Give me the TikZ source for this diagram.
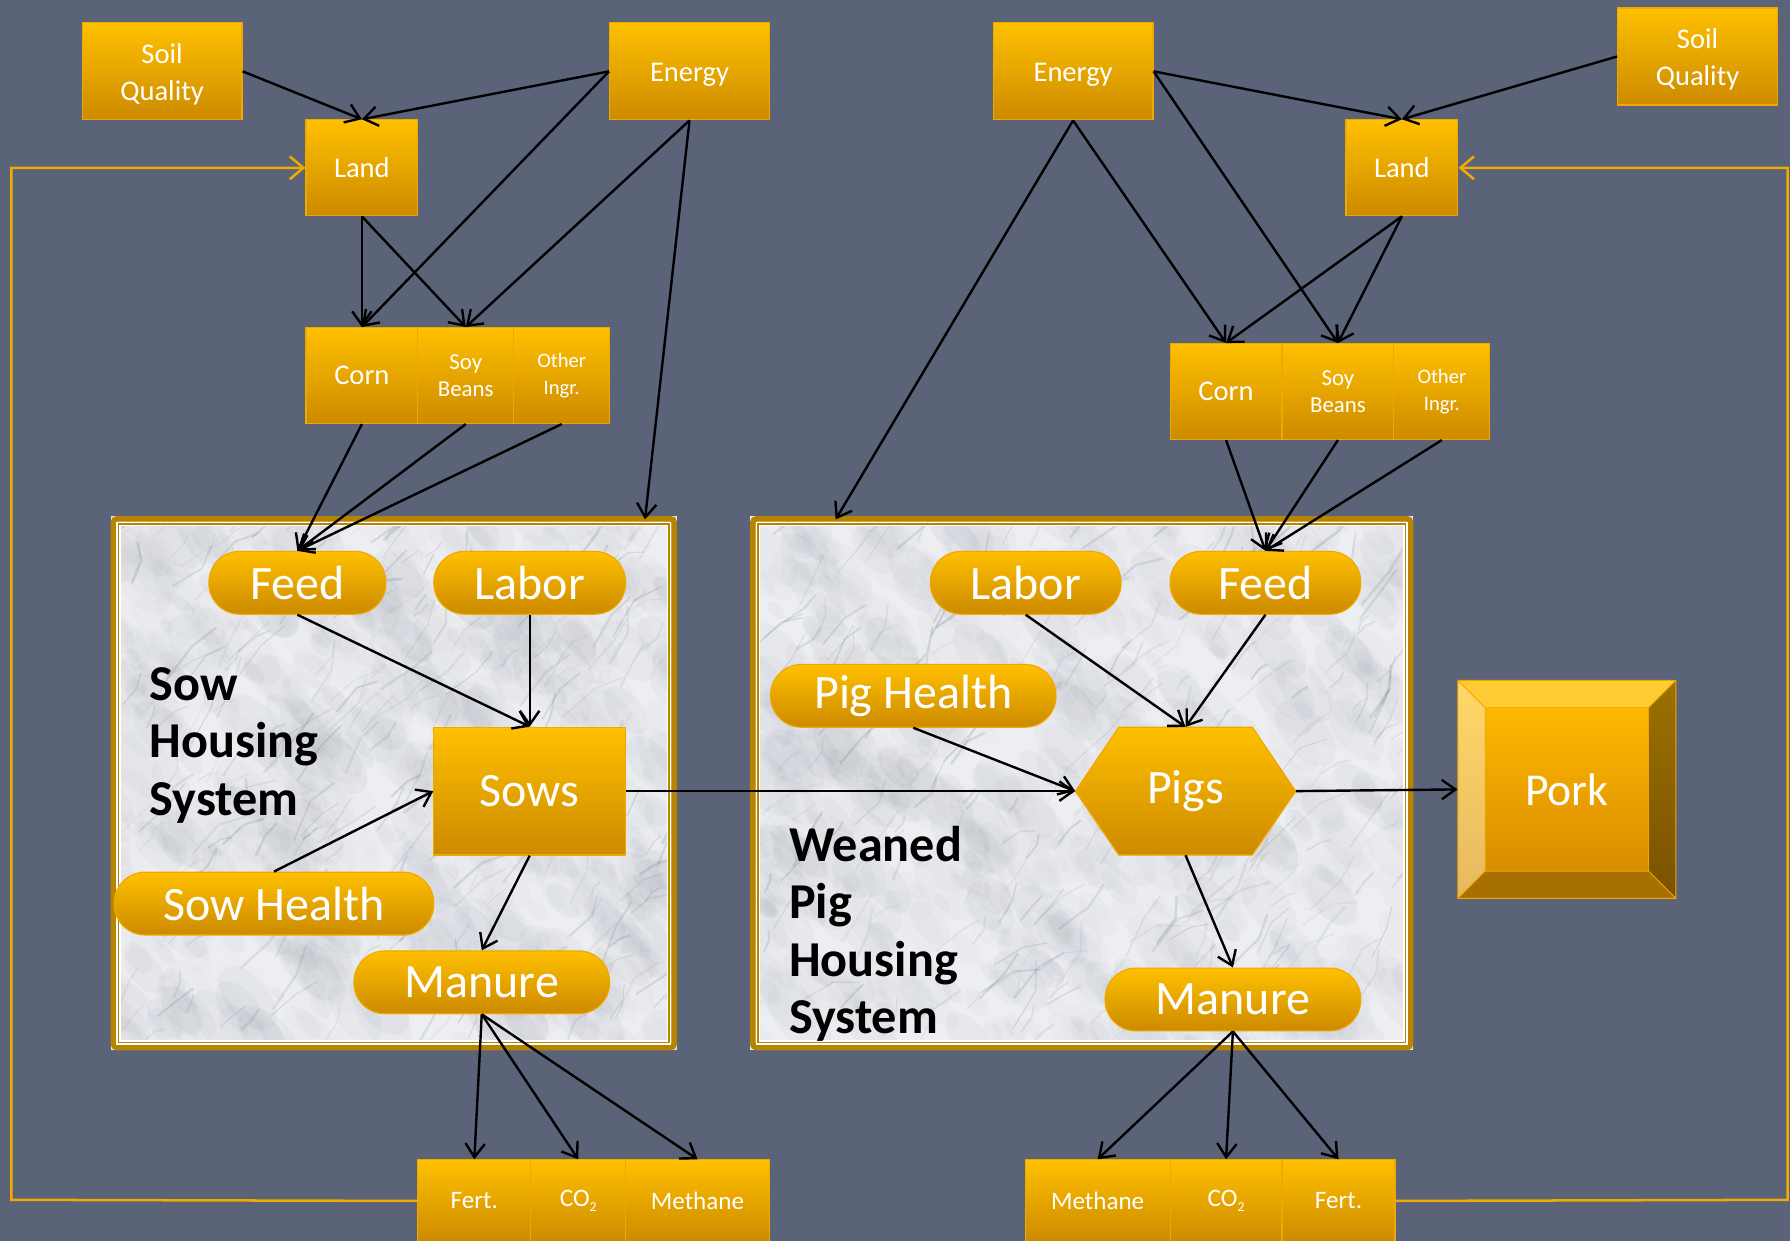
\documentclass[tikz,border=0pt]{standalone}
\usepackage{fontspec}
\setmainfont{Carlito}
\usetikzlibrary{arrows.meta}
\definecolor{bg}{RGB}{91,99,121}
\definecolor{otop}{RGB}{255,192,0}
\definecolor{obot}{RGB}{204,138,0}
\definecolor{oedge}{RGB}{240,168,0}
\definecolor{fbline}{RGB}{240,170,0}
\definecolor{gold}{RGB}{183,132,0}
\definecolor{marble}{RGB}{236,238,242}
\definecolor{vein}{RGB}{110,116,128}
\definecolor{pktop}{RGB}{255,204,51}
\definecolor{pkleftt}{RGB}{255,216,106}
\definecolor{pkleftb}{RGB}{230,185,95}
\definecolor{pkrightt}{RGB}{155,112,0}
\definecolor{pkrightb}{RGB}{122,82,0}
\definecolor{pkbot}{RGB}{168,112,0}
\definecolor{pkint}{RGB}{255,184,0}
\definecolor{pkinb}{RGB}{217,140,0}
\newcommand\dropby[1]{\vphantom{Qy}\smash{\raisebox{-3pt}{#1}}}
\newcommand\marblefill[4]{%
  \begin{scope}
    \clip (#1,#2) rectangle (#3,#4);
    \fill[marble] (#1,#2) rectangle (#3,#4);
    \foreach \k in {1,...,700}{%
      \pgfmathsetmacro\sx{#1+rnd*(#3-#1)}%
      \pgfmathsetmacro\sy{#2+rnd*(#4-#2)}%
      \pgfmathsetmacro\sr{4+rnd*16}%
      \pgfmathsetmacro\so{0.015+rnd*0.035}%
      \fill[vein,opacity=\so] (\sx,\sy) circle[x radius=\sr*1.8,y radius=\sr,rotate=-50];
    }
    \foreach \k in {1,...,260}{%
      \pgfmathsetmacro\sx{#1+rnd*(#3-#1)}%
      \pgfmathsetmacro\sy{#2+rnd*(#4-#2)}%
      \pgfmathsetmacro\sl{8+rnd*30}%
      \pgfmathsetmacro\sa{-30-rnd*40}%
      \pgfmathsetmacro\sb{\sa+rand*35}%
      \pgfmathsetmacro\sw{0.5+rnd*1.8}%
      \pgfmathsetmacro\so{0.06+rnd*0.16}%
      \draw[vein,line width=\sw pt,opacity=\so,line cap=round,line join=round]
        (\sx,\sy) -- ++({\sa}:\sl) -- ++({\sb}:{\sl*0.7});
    }
  \end{scope}}
\begin{document}
\begin{tikzpicture}[x=1pt,y=-1pt,
  box/.style={rectangle,top color=otop,bottom color=obot,draw=oedge,line width=1pt,
    text=white,align=center,inner sep=0pt},
  topbox/.style={box,minimum height=85pt,font=\fontsize{25}{32}\selectfont},
  smallbox/.style={box,minimum height=84pt},
  botbox/.style={box,minimum height=72pt,font=\fontsize{22}{26}\selectfont},
  pill/.style={box,rounded corners=27pt,minimum height=55pt,font=\fontsize{42}{50}\selectfont},
  arr/.style={draw=black,line width=2.1pt,-{Straight Barb[length=12pt,width=17pt]}},
  fb/.style={draw=fbline,line width=2.2pt,-{Straight Barb[length=12pt,width=20pt]}},
  framelbl/.style={anchor=west,align=left,inner sep=0pt,text=black,
    font=\bfseries\fontsize{44}{50}\selectfont}
]
\useasboundingbox (0,0) rectangle (1568,1087);
\fill[bg] (0,0) rectangle (1568,1087);

% ---------- frames ----------
\pgfmathsetseed{11}
\marblefill{97}{452}{593}{920}
\marblefill{657}{452}{1238}{920}
\foreach \xa/\xb in {97/593,657/1238}{
  \draw[gold,line width=5pt,rounded corners=3pt] (\xa+2.5,454.5) rectangle (\xb-2.5,917.5);
  \draw[white,line width=4pt] (\xa+7,459) rectangle (\xb-7,913);
  \draw[gold,line width=1.3pt] (\xa+7,459) rectangle (\xb-7,913);
}
\coordinate (sowtop) at (565,455);
\coordinate (pigtop) at (732,455);

% ---------- top left ----------
\node[topbox,minimum width=140pt] (SQ1) at (142,62.5) {\dropby{Soil}\\\dropby{Quality}};
\node[topbox,minimum width=140pt] (E1) at (604,62.5) {\dropby{Energy}};
\node[smallbox,minimum width=98pt,font=\fontsize{25}{31}\selectfont] (L1) at (317,147) {Land};
\node[smallbox,minimum width=98pt,font=\fontsize{25}{31}\selectfont] (C1) at (317,329) {Corn};
\node[smallbox,minimum width=84pt,font=\fontsize{20}{24}\selectfont] (S1) at (408,329) {Soy\\Beans};
\node[smallbox,minimum width=84pt,font=\fontsize{18}{23}\selectfont] (O1) at (492,329) {Other\\Ingr.};

% ---------- top right ----------
\node[topbox,minimum width=140pt] (E2) at (940,62.5) {\dropby{Energy}};
\node[topbox,minimum width=140pt] (SQ2) at (1487,49.5) {\dropby{Soil}\\\dropby{Quality}};
\node[smallbox,minimum width=98pt,font=\fontsize{25}{31}\selectfont] (L2) at (1228,147) {Land};
\node[smallbox,minimum width=98pt,font=\fontsize{25}{31}\selectfont] (C2) at (1074,343) {Corn};
\node[smallbox,minimum width=98pt,font=\fontsize{20}{24}\selectfont] (S2) at (1172,343) {Soy\\Beans};
\node[smallbox,minimum width=84pt,font=\fontsize{18}{23}\selectfont] (O2) at (1263,343) {Other\\Ingr.};

% ---------- sow housing ----------
\node[pill,minimum width=155pt] (Feed1) at (260.5,510.5) {Feed};
\node[pill,minimum width=168pt] (Labor1) at (464,510.5) {Labor};
\node[box,minimum width=168pt,minimum height=112pt,font=\fontsize{42}{50}\selectfont] (Sows) at (464,693) {Sows};
\node[pill,minimum width=280pt] (SowH) at (240,791.5) {Sow Health};
\node[pill,minimum width=224pt] (Man1) at (422,860.5) {Manure};
\node[framelbl] (SowLbl) at (131,653) {Sow\\Housing\\System};

% ---------- weaned pig housing ----------
\node[pill,minimum width=167pt] (Labor2) at (898.5,510.5) {Labor};
\node[pill,minimum width=167pt] (Feed2) at (1108.5,510.5) {Feed};
\node[pill,minimum width=250pt] (PigH) at (800,609.5) {Pig Health};
\path[top color=otop,bottom color=obot,draw=oedge,line width=1pt]
  (942,693) -- (980,637) -- (1097,637) -- (1135,693) -- (1097,749) -- (980,749) -- cycle;
\node[rectangle,minimum width=193pt,minimum height=112pt,inner sep=0pt,text=white,
  font=\fontsize{42}{50}\selectfont] (Pigs) at (1038.5,693) {Pigs};
\node[pill,minimum width=224pt] (Man2) at (1080,875.5) {Manure};
\node[framelbl] (PigLbl) at (691,818) {Weaned\\Pig\\Housing\\System};

% ---------- pork ----------
\fill[pktop] (1277,596) -- (1468,596) -- (1444,620) -- (1301,620) -- cycle;
\shade[top color=pkleftt,bottom color=pkleftb]
  (1277,596) -- (1301,620) -- (1301,763) -- (1277,787) -- cycle;
\shade[top color=pkrightt,bottom color=pkrightb]
  (1468,596) -- (1444,620) -- (1444,763) -- (1468,787) -- cycle;
\fill[pkbot] (1277,787) -- (1301,763) -- (1444,763) -- (1468,787) -- cycle;
\shade[top color=pkint,bottom color=pkinb] (1301,620) rectangle (1444,763);
\draw[oedge,line width=0.8pt] (1277,596) rectangle (1468,787) (1301,620) rectangle (1444,763)
  (1277,596) -- (1301,620) (1468,596) -- (1444,620) (1277,787) -- (1301,763) (1468,787) -- (1444,763);
\node[rectangle,minimum width=191pt,minimum height=191pt,inner sep=0pt,text=white,
  font=\fontsize{40}{48}\selectfont] (Pork) at (1372.5,691.5) {Pork};

% ---------- bottom outputs ----------
\node[botbox,minimum width=99pt] (F1) at (415.5,1052) {Fert.};
\node[botbox,minimum width=83pt] (CO1) at (506.5,1052) {CO\raisebox{-5pt}{\fontsize{12}{12}\selectfont 2}};
\node[botbox,minimum width=126pt] (M1) at (611,1052) {Methane};
\node[botbox,minimum width=127pt] (M2) at (961.5,1052) {Methane};
\node[botbox,minimum width=98pt] (CO2) at (1074,1052) {CO\raisebox{-5pt}{\fontsize{12}{12}\selectfont 2}};
\node[botbox,minimum width=99pt] (F2) at (1172.5,1052) {Fert.};

% ---------- feedback lines ----------
\draw[fb] (F1.west) -- (10,1051) -- (10,147) -- (L1.west);
\draw[fb] (F2.east) -- (1566,1051) -- (1566,147) -- (L2.east);

% ---------- arrows: left ----------
\draw[arr] (SQ1.east) -- (L1.north);
\draw[arr] (E1.west) -- (L1.north);
\draw[arr] (E1.west) -- (C1.north);
\draw[arr] (E1.south) -- (S1.north);
\draw[arr] (E1.south) -- (sowtop);
\draw[arr] (L1.south) -- (C1.north);
\draw[arr] (L1.south) -- (S1.north);
\draw[arr] (C1.south) -- (Feed1.north);
\draw[arr] (S1.south) -- (Feed1.north);
\draw[arr] (O1.south) -- (Feed1.north);
\draw[arr] (Feed1.south) -- (Sows.north);
\draw[arr] (Labor1.south) -- (Sows.north);
\draw[arr] (SowH.north) -- (Sows.west);
\draw[arr] (Sows.south) -- (Man1.north);
\draw[arr] (Sows.east) -- (Pigs.west);
\draw[arr] (Man1.south) -- (F1.north);
\draw[arr] (Man1.south) -- (CO1.north);
\draw[arr] (Man1.south) -- (M1.north);

% ---------- arrows: right ----------
\draw[arr] (E2.east) -- (L2.north);
\draw[arr] (SQ2.west) -- (L2.north);
\draw[arr] (E2.south) -- (pigtop);
\draw[arr] (E2.south) -- (C2.north);
\draw[arr] (E2.east) -- (S2.north);
\draw[arr] (L2.south) -- (C2.north);
\draw[arr] (L2.south) -- (S2.north);
\draw[arr] (C2.south) -- (Feed2.north);
\draw[arr] (S2.south) -- (Feed2.north);
\draw[arr] (O2.south) -- (Feed2.north);
\draw[arr] (Labor2.south) -- (Pigs.north);
\draw[arr] (Feed2.south) -- (Pigs.north);
\draw[arr] (PigH.south) -- (Pigs.west);
\draw[arr] (Pigs.east) -- (Pork.west);
\draw[arr] (Pigs.south) -- (Man2.north);
\draw[arr] (Man2.south) -- (M2.north);
\draw[arr] (Man2.south) -- (CO2.north);
\draw[arr] (Man2.south) -- (F2.north);
\end{tikzpicture}
\end{document}
